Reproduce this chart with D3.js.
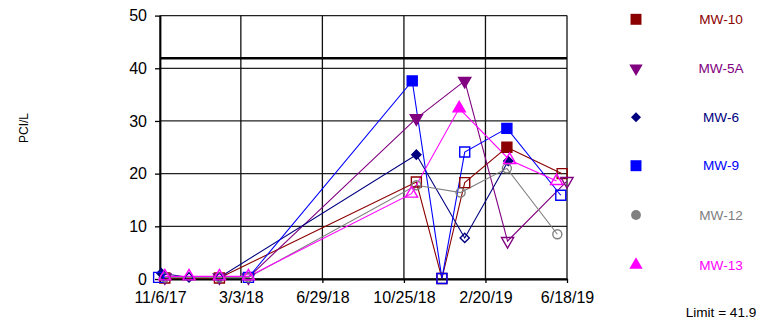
<!DOCTYPE html>
<html><head><meta charset="utf-8">
<script src="https://cdn.jsdelivr.net/npm/d3@7"></script>
<style>
html,body{margin:0;padding:0;background:#fff;}
svg{display:block;font-family:"Liberation Sans",Arial,sans-serif;}
</style></head>
<body><svg id="c" width="774" height="322"></svg>
<script>
// ---- data ----
const seriesNames = ["MW-10","MW-5A","MW-6","MW-9","MW-12","MW-13"];
const xTickLabels = ["11/6/17","3/3/18","6/29/18","10/25/18","2/20/19","6/18/19"];
const yTickValues = [0,10,20,30,40,50];
const limitValue = 41.9;

const mw10Dates  = ["2017-11-13","2018-01-31","2018-11-12","2018-12-19","2019-01-21","2019-03-23","2019-06-11"];
const mw10Values = [0.2,0.2,18.4,0.1,18.3,25.0,20.0];
const mw10Filled = [0,0,0,0,0,1,0];

const mw5aDates  = ["2017-11-13","2018-01-31","2018-03-14","2018-11-12","2019-01-21","2019-03-24","2019-06-18"];
const mw5aValues = [0.3,0.3,0.3,30.5,37.6,7.2,18.6];
const mw5aFilled = [0,0,0,1,1,0,0];

const mw6Dates  = ["2017-11-08","2017-12-18","2018-01-31","2018-11-12","2019-01-21","2019-03-25"];
const mw6Values = [1.1,0.3,0.3,23.6,7.8,22.4];
const mw6Filled = [1,0,0,1,0,1];

const mw9Dates  = ["2017-11-04","2018-03-14","2018-11-06","2018-12-19","2019-01-21","2019-03-23","2019-06-09"];
const mw9Values = [0.3,0.3,37.6,0.1,24.1,28.6,15.9];
const mw9Filled = [0,0,1,0,0,1,0];

const mw12Dates  = ["2017-11-13","2018-01-31","2018-03-14","2018-11-12","2019-01-15","2019-03-23","2019-06-04"];
const mw12Values = [0.3,0.3,0.3,17.8,16.4,21.0,8.5];
const mw12Filled = [0,0,0,0,0,0,0];

const mw13Dates  = ["2017-11-13","2017-12-18","2018-01-31","2018-03-14","2018-11-05","2019-01-13","2019-03-27","2019-06-03"];
const mw13Values = [0.5,0.5,0.5,0.5,16.2,32.4,22.6,18.6];
const mw13Filled = [0,0,0,0,0,1,0,0];

// ---- styles ----
const colors = ["#8B0000","#800080","#000080","#0000FF","#808080","#FF00FF"];
const shapes = ["square","tridown","diamond","square","circle","triup"];

const parse = d3.timeParse("%Y-%m-%d");
const tickParse = d3.timeParse("%m/%d/%y");
const raw = [
  [mw10Dates,mw10Values,mw10Filled],
  [mw5aDates,mw5aValues,mw5aFilled],
  [mw6Dates,mw6Values,mw6Filled],
  [mw9Dates,mw9Values,mw9Filled],
  [mw12Dates,mw12Values,mw12Filled],
  [mw13Dates,mw13Values,mw13Filled]
];
const series = raw.map((r,i)=>({
  name: seriesNames[i], color: colors[i], shape: shapes[i],
  pts: r[0].map((d,j)=>({date: parse(d), value: r[1][j], filled: !!r[2][j]}))
}));

const svg = d3.select("#c");
const L=160, R=567, T=15.6, B=279;
const xTicks = xTickLabels.map(s=>tickParse(s));
const x = d3.scaleTime().domain([xTicks[0], xTicks[xTicks.length-1]]).range([L,R]);
const y = d3.scaleLinear().domain([0,50]).range([B,T]);

// grid
const g = svg.append("g");
g.selectAll("line.h").data(yTickValues).join("line")
  .attr("x1",L).attr("x2",R).attr("y1",d=>y(d)).attr("y2",d=>y(d))
  .attr("stroke","#222").attr("stroke-width",1.3);
g.selectAll("line.v").data(xTicks).join("line")
  .attr("x1",d=>x(d)).attr("x2",d=>x(d)).attr("y1",T).attr("y2",B)
  .attr("stroke","#111").attr("stroke-width",1.3);
// limit line
g.append("line").attr("x1",L).attr("x2",R).attr("y1",y(limitValue)).attr("y2",y(limitValue))
  .attr("stroke","#000").attr("stroke-width",2.4);

// axes
const yAxis = d3.axisLeft(y).tickValues(yTickValues).tickSize(5).tickSizeOuter(0).tickPadding(8);
const ya = svg.append("g").attr("transform",`translate(${L},0)`).call(yAxis);
const xAxis = d3.axisBottom(x).tickValues(xTicks).tickSize(4).tickSizeOuter(0)
  .tickFormat((d,i)=>xTickLabels[i]).tickPadding(9);
const xa = svg.append("g").attr("transform",`translate(0,${B})`).call(xAxis);
[ya,xa].forEach(a=>{
  a.select(".domain").attr("stroke","#000").attr("stroke-width",1.8);
  a.selectAll(".tick line").attr("stroke","#000").attr("stroke-width",1.3);
  a.selectAll(".tick text").attr("font-size","16px").attr("fill","#000")
    .attr("font-family","'Liberation Sans',Arial,sans-serif");
});

// y label
svg.append("text").attr("transform","translate(28,128) rotate(-90)")
  .attr("text-anchor","middle").attr("font-size","12px").attr("fill","#000").text("PCI/L");

// symbol helper
function sym(shape, k){
  if(shape==="square") return {p:d3.symbol(d3.symbolSquare, 100*k)(), r:0};
  if(shape==="circle") return {p:d3.symbol(d3.symbolCircle, 64*k)(), r:0};
  if(shape==="diamond") return {p:d3.symbol(d3.symbolSquare, 42*k)(), r:45};
  if(shape==="triup") return {p:d3.symbol(d3.symbolTriangle, 64*k)(), r:0};
  if(shape==="tridown") return {p:d3.symbol(d3.symbolTriangle, 64*k)(), r:180};
}

const line = d3.line().x(d=>x(d.date)).y(d=>y(d.value));
const plot = svg.append("g");
series.forEach(s=>{
  plot.append("path").datum(s.pts).attr("d",line).attr("fill","none")
    .attr("stroke",s.color).attr("stroke-width",1.1);
});
series.forEach(s=>{
  const m = sym(s.shape,1);
  plot.selectAll(null).data(s.pts).join("path")
    .attr("d",m.p)
    .attr("transform",d=>`translate(${x(d.date)},${y(d.value)}) rotate(${m.r})`)
    .attr("fill",d=>d.filled?s.color:"none")
    .attr("stroke",s.color).attr("stroke-width",1.4);
});

// legend
const legY = [19.3,68.3,117.3,165.7,215,265];
const leg = svg.append("g");
series.forEach((s,i)=>{
  const m = sym(s.shape,1.2);
  leg.append("path").attr("d",m.p)
    .attr("transform",`translate(636,${legY[i]}) rotate(${m.r})`)
    .attr("fill",s.color);
  leg.append("text").attr("x",721).attr("y",legY[i]).attr("dy","0.35em")
    .attr("text-anchor","middle").attr("font-size","13.6px").attr("fill",s.color).text(s.name);
});
leg.append("text").attr("x",721).attr("y",317).attr("text-anchor","middle")
  .attr("font-size","13.6px").attr("fill","#000").text("Limit = " + limitValue);
</script></body></html>
